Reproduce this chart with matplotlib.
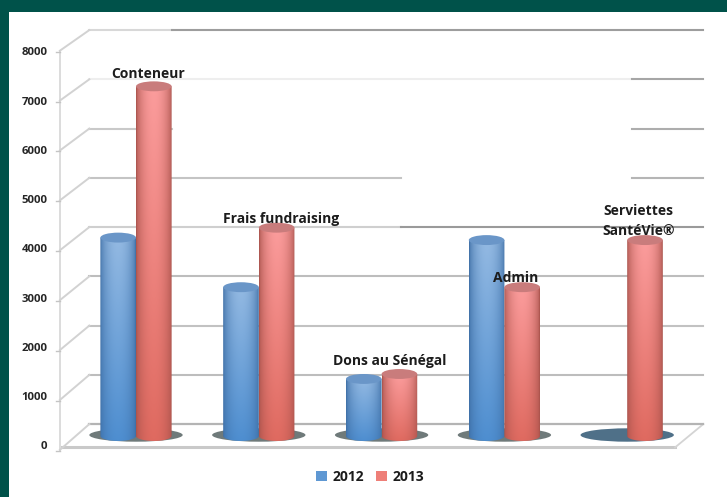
import numpy as np
import matplotlib
matplotlib.use('Agg')
import matplotlib.pyplot as plt
from matplotlib.colors import to_rgb
from matplotlib.patches import Ellipse, Polygon, Rectangle, Patch

# Valeurs
CATEGORIES = ['Conteneur', 'Frais fundraising', 'Dons au Sénégal', 'Admin', 'Serviettes\nSantéVie®']
VALUES_2012 = [4000, 3000, 1150, 3950, 0]
VALUES_2013 = [7050, 4200, 1250, 3000, 3950]
TICKS = [0, 1000, 2000, 3000, 4000, 5000, 6000, 7000, 8000]

# Position des étiquettes (centre x en catégories, bas du texte en valeur)
LABEL_X = [0.10, 1.18, 2.07, 3.09, 4.09]
LABEL_Y = [7150, 4230, 1380, 3040, 4000]

W, H = 727, 497
GREEN = '#00524A'
BAR_W = 0.29
CAP_H = 200  # hauteur de l'ellipse en unités de valeur

# Géométrie de la fausse 3D
X_FRONT, X_BACK, X_FRONT_R, X_BACK_R = -0.62, -0.38, 4.39, 4.62


def back(v):
    return v * 0.993 + 240


def front(v):
    return v * 1.006 - 300


def tick_label_y(v):
    return v * 0.993 - 220


def draw_cylinder(ax, x0, value, mid_top, mid_bot, edge, cap):
    """Cylindre avec dégradé, coupé sur le bas arrondi."""
    if value <= 0:
        return
    u = np.linspace(0, 1, 60)
    t = np.linspace(0, 1, 80)[:, None, None]
    shade = (np.sin(np.pi * u) ** 0.55)[None, :, None]
    mid = np.array(to_rgb(mid_top)) * (1 - t) + np.array(to_rgb(mid_bot)) * t
    img = np.array(to_rgb(edge)) * (1 - shade) + mid * shade

    bottom = -CAP_H / 2
    im = ax.imshow(img, extent=(x0, x0 + BAR_W, bottom, value), origin='upper',
                   aspect='auto', zorder=5, interpolation='bilinear')
    a = np.linspace(np.pi, 2 * np.pi, 30)
    xs = x0 + BAR_W / 2 + BAR_W / 2 * np.cos(a)
    ys = CAP_H / 2 * np.sin(a)
    outline = [(x0, value)] + list(zip(xs, ys)) + [(x0 + BAR_W, value)]
    clip = Polygon(outline, closed=True, transform=ax.transData)
    im.set_clip_path(clip)
    ax.add_patch(Ellipse((x0 + BAR_W / 2, value), BAR_W, CAP_H, color=cap, zorder=5.5, lw=0))


fig = plt.figure(figsize=(W / 100, H / 100), dpi=100, facecolor=GREEN)
fig.patches.append(Rectangle((9 / W, 0), 1 - 9 / W, 1 - 12 / H, transform=fig.transFigure,
                             facecolor='white', edgecolor='none', zorder=-5))
ax = fig.add_axes([0, 0, 1, 1], facecolor='none')
ax.axis('off')

# Sol
ax.plot([X_FRONT + 0.02, X_FRONT_R], [front(0) + 70, front(0) + 70], color='#c9c9c9', lw=2.2, zorder=2)
ax.plot([X_FRONT_R, X_BACK_R], [front(0) + 70, back(0)], color='#d4d4d4', lw=1.3, zorder=2)
ax.plot([X_BACK, X_BACK_R], [back(0), back(0)], color='#b4b4b4', lw=1.6, zorder=2)

# Grille du fond : (valeur, début, fin, couleur)
X_A, X_B, X_C = 0.29, 2.16, 4.04
GRID_SEGMENTS = [
    (8000, X_BACK, X_A, '#d8d8d8'), (8000, X_A, X_BACK_R, '#9d9d9d'),
    (7000, X_BACK, X_C, '#eeeeee'), (7000, X_C, X_BACK_R, '#a6a6a6'),
    (6000, X_BACK, X_A, '#c9c9c9'), (6000, X_C, X_BACK_R, '#adadad'),
    (5000, X_BACK, X_B, '#c4c4c4'), (5000, X_C, X_BACK_R, '#b5b5b5'),
    (4000, X_BACK, X_B, '#cfcfcf'), (4000, X_B, X_BACK_R, '#9a9a9a'),
    (3000, X_BACK, X_BACK_R, '#bdbdbd'),
    (2000, X_BACK, X_BACK_R, '#c2c2c2'),
    (1000, X_BACK, X_BACK_R, '#bdbdbd'),
]
for v, x1, x2, c in GRID_SEGMENTS:
    ax.plot([x1, x2], [back(v), back(v)], color=c, lw=1.5, zorder=1.5)

# Mur gauche et graduations
ax.plot([X_FRONT, X_FRONT], [front(0), front(8000)], color='#d6d6d6', lw=1.2, zorder=2)
for v in TICKS:
    ax.plot([X_FRONT, X_BACK], [front(v) + 20, back(v)], color='#d2d2d2', lw=1.4, zorder=2)
    ax.plot([X_FRONT - 0.03, X_FRONT], [front(v), front(v)], color='#c4c4c4', lw=1.0, zorder=2)
    ax.text(X_FRONT - 0.1, tick_label_y(v), str(v), ha='right', va='center', fontsize=8.2,
            fontweight='bold', family='Open Sans', color='#262626', zorder=8)

# Ombres au pied des barres
for i in range(len(CATEGORIES)):
    shadow = '#4f7088' if VALUES_2012[i] == 0 else '#6f7a7a'
    ax.add_patch(Ellipse((i, 20), 0.76, 270, facecolor=shadow, edgecolor='none', zorder=3))

# Barres
for i in range(len(CATEGORIES)):
    draw_cylinder(ax, i - BAR_W, VALUES_2012[i], '#93B9E2', '#4E8ED0', '#3E6FA6', '#6A96C8')
    draw_cylinder(ax, i, VALUES_2013[i], '#FB9C9C', '#DF6A60', '#A9534C', '#C97C7C')

# Étiquettes
for name, x, y in zip(CATEGORIES, LABEL_X, LABEL_Y):
    ax.text(x, y, name, ha='center', va='bottom', fontsize=10, fontweight='bold',
            family='Open Sans', color='#1c1c1c', linespacing=1.5, zorder=9)

ax.set_xlim(-136 / 122.8, (W - 136) / 122.8)
ax.set_ylim(-(H - 436) / 0.0496, 436 / 0.0496)

handles = [Patch(facecolor='#5f98d3', label='2012'), Patch(facecolor='#ee7f78', label='2013')]
leg = ax.legend(handles=handles, ncol=2, frameon=False, loc='center', bbox_to_anchor=(370 / W, 1 - 477 / H),
                prop={'family': 'Open Sans', 'weight': 'bold', 'size': 10}, handlelength=0.8, handleheight=0.8,
                handletextpad=0.35, columnspacing=0.9, labelcolor='#1c1c1c')

fig.savefig('out.png', dpi=100)
